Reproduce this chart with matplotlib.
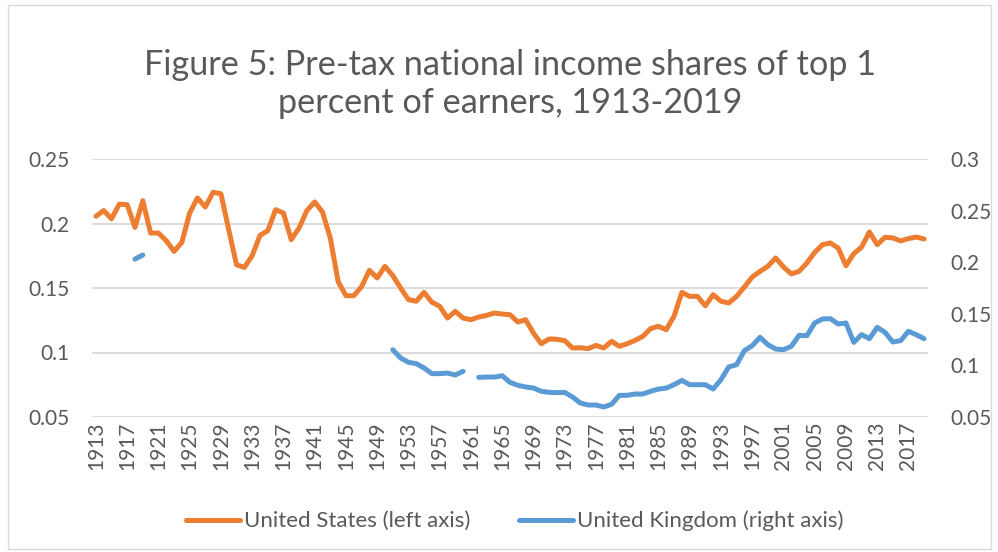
import numpy as np
import matplotlib
matplotlib.use('Agg')
import matplotlib.pyplot as plt
from matplotlib.patches import Rectangle

plt.rcParams['font.family'] = ['Lato', 'DejaVu Sans']

# data
years = list(range(1913, 2020))

us_share = [
    0.2056, 0.2100, 0.2037, 0.2150, 0.2146, 0.1970, 0.2177,          # 1913-1919
    0.1926, 0.1926, 0.1867, 0.1784, 0.1854, 0.2081, 0.2198, 0.2128, 0.2242, 0.2231,  # 1920s
    0.1952, 0.1680, 0.1660, 0.1750, 0.1908, 0.1944, 0.2107, 0.2081, 0.1875, 0.1965,  # 1930s
    0.2100, 0.2167, 0.2089, 0.1888, 0.1550, 0.1440, 0.1440, 0.1510, 0.1637, 0.1578,  # 1940s
    0.1668, 0.1596, 0.1500, 0.1410, 0.1397, 0.1466, 0.1390, 0.1358, 0.1267, 0.1319,  # 1950s
    0.1267, 0.1254, 0.1275, 0.1288, 0.1306, 0.1298, 0.1293, 0.1236, 0.1254, 0.1151,  # 1960s
    0.1068, 0.1105, 0.1102, 0.1092, 0.1035, 0.1037, 0.1030, 0.1055, 0.1035, 0.1087,  # 1970s
    0.1048, 0.1068, 0.1094, 0.1125, 0.1185, 0.1203, 0.1177, 0.1282, 0.1466, 0.1435,  # 1980s
    0.1435, 0.1362, 0.1448, 0.1397, 0.1384, 0.1435, 0.1508, 0.1585, 0.1629, 0.1668,  # 1990s
    0.1733, 0.1663, 0.1609, 0.1629, 0.1694, 0.1776, 0.1836, 0.1849, 0.1810, 0.1673,  # 2000s
    0.1766, 0.1817, 0.1934, 0.1836, 0.1893, 0.1888, 0.1865, 0.1883, 0.1895, 0.1880,  # 2010s
]

uk_share = (
    [None] * 5 + [0.203, 0.207] + [None] * 31 +                       # 1913-1950
    [0.1152, 0.1072, 0.1030, 0.1017, 0.0975, 0.0920, 0.0920, 0.0926, 0.0907, 0.0943] +  # 1951-1960
    [None] +                                                           # 1961
    [0.0884, 0.0887, 0.0887, 0.0900, 0.0836, 0.0807, 0.0791, 0.0781,   # 1962-1969
     0.0749, 0.0739, 0.0736, 0.0739, 0.0694, 0.0636, 0.0616, 0.0616, 0.0597, 0.0623,  # 1970s
     0.0710, 0.0710, 0.0723, 0.0723, 0.0749, 0.0771, 0.0780, 0.0813, 0.0855, 0.0813,  # 1980s
     0.0813, 0.0813, 0.0771, 0.0862, 0.0985, 0.1007, 0.1143, 0.1191, 0.1272, 0.1201,  # 1990s
     0.1159, 0.1152, 0.1185, 0.1291, 0.1288, 0.1411, 0.1450, 0.1453, 0.1401, 0.1411,  # 2000s
     0.1223, 0.1298, 0.1259, 0.1369, 0.1320, 0.1227, 0.1240, 0.1330, 0.1298, 0.1259]  # 2010s
)

left_ticks = [0.05, 0.1, 0.15, 0.2, 0.25]
right_ticks = [0.05, 0.1, 0.15, 0.2, 0.25, 0.3]

ORANGE = '#ED7D31'
BLUE = '#5B9BD5'
GRID = '#D9D9D9'
TEXT = '#595959'

W, H = 998, 552
fig = plt.figure(figsize=(W / 100, H / 100), dpi=100)

# chart border
fig.patches.append(Rectangle((8 / W, 3 / H), 983 / W, 544 / H, transform=fig.transFigure,
                             fill=False, edgecolor=GRID, linewidth=1))

ax = fig.add_axes([92 / W, 1 - 417 / H, 836 / W, 258 / H])
ax2 = ax.twinx()

x = np.arange(len(years))
us = np.array(us_share, dtype=float)
uk = np.array([np.nan if v is None else v for v in uk_share], dtype=float)

l1, = ax.plot(x, us, color=ORANGE, linewidth=3.6, solid_capstyle='round',
              solid_joinstyle='round', label='United States (left axis)', zorder=3)
l2, = ax2.plot(x, uk, color=BLUE, linewidth=3.6, solid_capstyle='round',
               solid_joinstyle='round', label='United Kingdom (right axis)', zorder=3)

ax.set_xlim(-0.5, len(years) - 0.5)
ax.set_ylim(0.05, 0.25)
ax2.set_ylim(0.05, 0.3)
ax.set_yticks(left_ticks)
ax.set_yticklabels([f'{t:g}' for t in left_ticks])
ax2.set_yticks(right_ticks)
ax2.set_yticklabels([f'{t:g}' for t in right_ticks])

ax.set_xticks(x[::4])
ax.set_xticklabels([str(y) for y in years[::4]], rotation=90)

ax.grid(axis='y', color=GRID, linewidth=1.3)
ax.set_axisbelow(True)
for a in (ax, ax2):
    for s in a.spines.values():
        s.set_visible(False)
    a.tick_params(length=0, labelsize=15, colors=TEXT)
ax.tick_params(axis='y', pad=16)
ax2.tick_params(axis='y', pad=16)
ax.tick_params(axis='x', pad=3)

fig.text(0.511, 1 - 84 / H, 'Figure 5: Pre-tax national income shares of top 1\npercent of earners, 1913-2019',
         ha='center', va='center', fontsize=24.7, color=TEXT, linespacing=1.2)

fig.legend(handles=[l1, l2], loc='center', bbox_to_anchor=(0.516, 1 - 521 / H), ncol=2,
           frameon=False, fontsize=16, labelcolor=TEXT, handlelength=2.4,
           handletextpad=0.2, columnspacing=2.2)

fig.savefig('out.png', dpi=100)
